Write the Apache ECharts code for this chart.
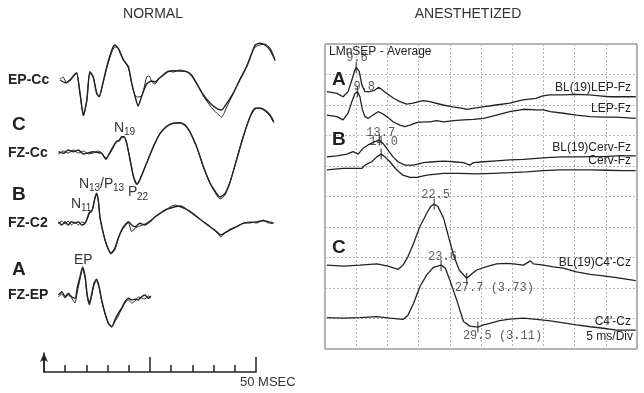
<!DOCTYPE html>
<html><head><meta charset="utf-8">
<script src="https://cdn.jsdelivr.net/npm/echarts@6/dist/echarts.min.js"></script>
<style>html,body{margin:0;padding:0;background:#fff}#c{width:644px;height:393px}</style>
</head><body><div id="c"></div>
<script>
// ---------- NORMAL panel: [time ms, amplitude] (two superimposed replicates each) ----------
const epCc1 = [[3.8,0],[5.0,-2.7],[6.1,0],[7.1,5],[7.7,7.3],[8.5,-13.3],[9.3,-35],[10.1,-20],[10.8,8.3],[11.6,3.3],[12.4,-13.3],[13.0,-16.7],[13.6,-8.3],[14.8,13.3],[16.0,30],[16.7,35],[17.5,31.7],[18.7,20],[19.9,13.3],[20.7,-3.3],[21.5,-16.7],[22.2,-26],[23.0,-16.7],[24.2,-4],[25.4,-1],[26.2,-2],[27.0,1],[28.2,5],[29.3,8.3],[30.5,9.3],[32.1,9],[33.7,8.3],[34.8,5],[36.0,-3.3],[37.6,-15],[39.2,-23.3],[40.7,-28.3],[41.9,-30],[43.1,-23.3],[44.6,-13.3],[46.2,0],[47.8,13.3],[49.0,26.7],[49.8,35],[50.9,36.7],[52.1,35],[53.3,30],[54.1,23.3],[54.5,20]];
const epCc2 = [[3.8,1],[4.5,3],[5.3,-3],[6.1,-1],[7.1,4],[7.7,7],[8.5,-14],[9.3,-36],[10.1,-21],[10.8,7],[11.6,3],[12.4,-12],[13.0,-17],[13.6,-9],[14.8,12],[16.0,28],[16.7,33],[17.5,32],[18.7,21],[19.9,12],[20.7,-4],[21.5,-16],[22.2,-17],[23.0,-16],[23.6,-8],[24.2,3],[24.8,4],[25.4,-2],[26.2,-4],[27.0,1],[28.2,6],[29.3,9],[30.5,8],[32.1,10],[33.7,8],[34.8,4],[36.0,-4],[37.6,-16],[39.2,-26],[40.7,-33],[41.9,-37],[43.1,-27],[44.6,-14],[46.2,1],[47.8,14],[49.0,27],[49.8,33],[50.9,35],[52.1,36],[53.3,32],[54.1,25],[54.5,19]];
const fzCc1 = [[3.4,1.3],[4.6,-0.3],[5.7,3],[6.9,1.3],[8.1,3],[9.3,-1],[10.5,0.3],[11.6,1.3],[12.8,0.3],[13.6,-0.3],[14.6,-6.3],[15.2,-2],[16.3,6.3],[17.1,11.3],[17.8,13],[18.3,16.3],[18.9,16.3],[19.5,9.7],[20.3,-7],[21.1,-23.7],[21.9,-31.3],[22.6,-27],[24.2,-10.3],[25.8,6.3],[27.4,19.7],[28.9,26.3],[30.5,29.7],[32.1,30.3],[33.3,28],[34.4,21.3],[36.0,6.3],[37.6,-13.7],[39.2,-30.3],[40.7,-40.3],[41.5,-44],[42.7,-40.3],[43.9,-28.7],[45.4,-7],[47.0,16.3],[48.6,36.3],[49.8,44.7],[50.9,44.7],[52.1,43],[53.3,38],[54.2,31.3]];
const fzCc2 = [[3.4,-1],[4.6,2],[5.7,0],[6.9,3],[8.1,0],[9.3,2],[10.5,-1],[11.6,0],[12.8,2],[13.6,0],[14.6,-5],[15.2,-3],[16.3,5],[17.1,12],[17.8,12],[18.3,15],[18.9,16],[19.5,10],[20.3,-6],[21.1,-23],[21.9,-31],[22.6,-26],[24.2,-10],[25.8,7],[27.4,20],[28.9,27],[30.5,30],[32.1,30],[33.3,27],[34.4,21],[36.0,6],[37.6,-14],[39.2,-31],[40.7,-42],[41.5,-46],[42.7,-42],[43.9,-29],[45.4,-7],[47.0,17],[48.6,36],[49.8,44],[50.9,45],[52.1,42],[53.3,37],[54.2,30]];
const fzC21 = [[3.4,1.3],[4.2,-2],[5.0,1.3],[5.7,-2],[6.5,1.3],[7.3,-0.3],[8.1,1.3],[8.9,-2],[9.7,-0.3],[10.2,4.7],[10.8,11.3],[11.2,11.3],[11.6,16.3],[12.0,24.7],[12.4,29.7],[12.8,23],[13.2,6.3],[14.0,-10.3],[14.8,-22],[15.8,-30.3],[16.7,-25.3],[17.5,-15.3],[18.3,-7],[19.1,-2],[19.9,1.3],[20.7,-2],[21.5,-3.7],[22.6,-0.3],[23.8,-2],[25.0,1.3],[26.2,6.3],[27.4,9.7],[28.5,13],[29.7,14.7],[30.9,16.3],[32.1,17],[33.3,14.7],[34.4,11.3],[36.0,6.3],[37.6,1.3],[39.2,-3.7],[40.7,-8.7],[41.7,-12],[42.7,-9.7],[43.9,-7],[45.4,-3.7],[47.0,-0.3],[48.6,0.3],[50.2,1.3],[51.7,2.3],[52.9,1.3],[53.7,-0.3],[54.1,0.3]];
const fzC22 = [[3.4,-1],[4.2,2],[5.0,-1],[5.7,2],[6.5,-2],[7.3,1],[8.1,-2],[8.9,1],[9.7,0],[10.2,4],[10.8,10],[11.2,12],[11.6,17],[12.0,25],[12.4,29],[12.8,22],[13.2,5],[14.0,-11],[14.8,-23],[15.8,-31],[16.7,-27],[17.5,-16],[18.3,-8],[19.1,-3],[19.9,0],[20.7,-8.7],[21.5,-5],[22.6,-3],[23.8,-1],[25.0,2.3],[26.2,6],[27.4,10],[28.5,12],[29.7,16],[30.9,18],[32.1,16],[33.3,14],[34.4,12],[36.0,7],[37.6,1],[39.2,-4],[40.7,-9],[41.7,-14],[42.7,-10],[43.9,-6],[45.4,-4],[47.0,0],[48.6,1],[50.2,0],[51.7,3],[52.9,0],[53.7,1],[54.1,-1]];
const fzEp1 = [[3.4,0],[4.2,3.3],[5.0,-1.7],[5.7,1.7],[6.5,-1.7],[7.3,-3.3],[7.9,8.3],[8.5,18.3],[9.1,27.7],[9.7,18.3],[10.2,0],[10.7,-8.3],[11.2,0],[11.8,11.7],[12.4,15.7],[13.0,8.3],[13.6,-5],[14.4,-18.3],[15.2,-28.3],[16.0,-31.7],[16.7,-25],[17.5,-18.3],[18.3,-13.3],[19.1,-6.7],[19.9,-3.3],[20.7,-5],[21.5,-4.3],[22.2,-5],[23.0,-1.7],[23.8,0],[24.6,-3.3],[25.2,-1]];
const fzEp2 = [[3.4,-2],[4.2,1],[5.0,-3],[5.7,0],[6.5,-3],[7.3,-8],[7.9,4],[8.5,16],[9.1,26],[9.7,17],[10.2,-2],[10.7,-10],[11.2,-2],[11.8,10],[12.4,14],[13.0,7],[13.6,-6],[14.4,-19],[15.2,-29],[16.0,-32],[16.7,-27],[17.5,-21],[18.3,-14],[19.1,-8],[19.9,-5],[20.7,-8],[21.5,-6],[22.2,-2],[23.0,-3],[23.8,-4],[24.6,-1],[25.2,-3]];
const normalNames = ['EP-Cc','FZ-Cc','FZ-C2','FZ-EP'];
const normalRep1 = [epCc1, fzCc1, fzC21, fzEp1];
const normalRep2 = [epCc2, fzCc2, fzC22, fzEp2];
const timeBarTicks = [0,5,10,15,20,25,30,35,40,45,50];   // ms

// ---------- ANESTHETIZED panel: [time ms, divisions] ----------
const blLep = [[5.3,8.44],[6.9,8.38],[7.9,8.27],[8.7,8.44],[9.3,8.82],[9.8,9.15],[10.0,9.24],[10.5,9.09],[10.9,8.66],[11.4,8.44],[12.2,8.44],[13.0,8.49],[13.6,8.58],[14.1,8.51],[14.9,8.38],[16.0,8.22],[17.0,8.11],[18.1,8.03],[19.1,8.06],[20.7,8.14],[21.8,8.11],[23.9,8.0],[25.5,7.94],[27.1,7.89],[27.8,7.86],[28.7,7.89],[30.3,7.94],[32.4,8.0],[34.6,8.06],[36.7,8.17],[38.8,8.22],[39.9,8.30],[41.0,8.33],[43.1,8.33],[45.2,8.35],[47.4,8.33],[49.0,8.30],[50.6,8.27],[52.2,8.27],[54.8,8.27]];
const lep = [[5.3,7.67],[6.9,7.62],[7.9,7.51],[8.7,7.73],[9.3,8.11],[9.8,8.38],[10.2,8.44],[10.6,8.27],[11.0,7.84],[11.4,7.62],[11.9,7.56],[12.7,7.67],[13.5,7.78],[14.1,7.73],[14.9,7.62],[15.9,7.45],[17.0,7.34],[17.8,7.29],[18.6,7.34],[19.7,7.42],[20.8,7.45],[21.8,7.45],[22.9,7.49],[24.0,7.45],[25.6,7.49],[27.2,7.51],[28.8,7.53],[30.4,7.56],[32.5,7.67],[34.6,7.78],[36.8,7.86],[38.9,7.84],[40.0,7.84],[41.1,7.78],[43.2,7.73],[45.3,7.67],[47.5,7.62],[49.6,7.60],[51.7,7.60],[54.8,7.56]];
const blCerv = [[5.3,6.30],[6.9,6.33],[8.5,6.39],[9.5,6.47],[10.3,6.39],[11.1,6.58],[11.9,6.69],[13.0,6.80],[13.7,6.85],[14.3,6.74],[15.1,6.52],[15.9,6.30],[16.7,6.14],[17.8,6.03],[19.2,6.03],[20.8,6.11],[22.4,6.14],[24.0,6.16],[25.6,6.14],[27.2,6.11],[28.2,6.03],[28.8,6.11],[30.4,6.14],[32.5,6.17],[34.6,6.20],[36.8,6.22],[38.9,6.25],[41.1,6.28],[43.2,6.30],[45.3,6.30],[47.5,6.31],[49.6,6.31],[51.7,6.33],[54.8,6.33]];
const cerv = [[5.3,5.87],[7.9,5.92],[10.9,5.92],[11.4,6.03],[12.5,6.14],[13.3,6.30],[14.0,6.39],[14.6,6.30],[15.4,6.14],[16.5,5.87],[17.5,5.70],[18.6,5.63],[19.7,5.63],[21.3,5.70],[24.0,5.76],[26.6,5.76],[29.3,5.74],[32.0,5.76],[34.6,5.78],[37.3,5.81],[40.0,5.85],[42.6,5.87],[44.8,5.87],[47.5,5.87],[50.1,5.86],[52.8,5.85],[54.8,5.85]];
const blC4 = [[5.3,2.75],[7.9,2.72],[10.6,2.75],[13.3,2.79],[15.1,2.72],[16.7,2.61],[17.5,2.75],[18.3,3.03],[19.2,3.47],[20.2,4.01],[21.3,4.45],[22.0,4.69],[22.5,4.75],[23.1,4.67],[24.0,4.29],[24.8,3.68],[25.6,3.08],[26.5,2.59],[27.7,2.32],[28.5,2.46],[29.3,2.59],[30.9,2.70],[32.5,2.79],[34.1,2.81],[35.2,2.79],[36.8,2.75],[37.9,2.89],[38.4,2.79],[40.0,2.75],[41.6,2.69],[43.2,2.65],[45.3,2.53],[47.5,2.45],[49.6,2.40],[51.7,2.34],[54.8,2.24]];
const c4 = [[5.3,1.03],[7.9,1.01],[10.6,1.03],[13.3,1.06],[15.4,1.01],[17.5,0.97],[18.3,1.11],[19.2,1.50],[20.2,2.04],[21.3,2.43],[22.4,2.68],[23.6,2.75],[24.3,2.65],[25.0,2.26],[26.1,1.61],[27.2,0.90],[28.2,0.75],[29.5,0.72],[30.4,0.79],[31.4,0.84],[33.0,0.93],[34.6,0.98],[36.8,1.01],[38.9,0.97],[41.1,0.92],[43.2,0.86],[45.3,0.79],[47.5,0.73],[49.6,0.68],[51.7,0.62],[54.8,0.62]];
const anesthNames = ['BL(19)LEP-Fz','LEP-Fz','BL(19)Cerv-Fz','Cerv-Fz',"BL(19)C4'-Cz","C4'-Cz"];
const anesthTraces = [blLep, lep, blCerv, cerv, blC4, c4];
// cursor annotations: [time ms, divisions] and printed text
const cursorPoints = [[10.0,9.24],[10.2,8.44],[13.7,6.85],[14.0,6.39],[22.5,4.75],[23.6,2.75],[27.7,2.32],[29.5,0.72]];
const cursorTexts = ['9.6','9.8','13.7','14.0','22.5','23.6','27.7 (3.73)','29.5 (3.11)'];

// ---------- layout / style (not data) ----------
const normalOffsets = [260,187,117,45];
const cursorLabelPos = [[-10,-9,'left'],[-4,-5,'left'],[-13,-7,'left'],[-12,-12,'left'],[-13,-9,'left'],[-13,-8,'left'],[-12,10,'left'],[-15,9,'left']];
const ink = '#222';

const chart = echarts.init(document.getElementById('c'), null, {renderer:'canvas'});
const hidden = {show:false};
const series = [];
normalRep1.forEach((rep, i) => {
  [rep, normalRep2[i]].forEach((r, k) => {
    series.push({type:'line', name: normalNames[i] + (k ? ' (rep 2)' : ''), xAxisIndex:0, yAxisIndex:0,
      data: r.map(p => [p[0], normalOffsets[i] + p[1]]), showSymbol:false, smooth:0.2,
      lineStyle:{color: ink, width: k ? 1.0 : 1.4}, silent:true, animation:false});
  });
});
anesthTraces.forEach((tr, i) => {
  series.push({type:'line', name: anesthNames[i], xAxisIndex:3, yAxisIndex:3, data: tr,
    showSymbol:false, lineStyle:{color: ink, width:1.3}, silent:true, animation:false});
});
series.push({type:'scatter', xAxisIndex:3, yAxisIndex:3, symbol:'rect', symbolSize:[1.2,11],
  itemStyle:{color: ink}, silent:true, animation:false, z:5,
  data: cursorPoints.map((p, i) => ({value:p, label:{show:true, position:'inside', formatter: cursorTexts[i],
    align: cursorLabelPos[i][2], offset:[cursorLabelPos[i][0], cursorLabelPos[i][1]],
    fontFamily:'Liberation Mono', fontSize:12, color:'#333'}}))});
series.push({type:'line', xAxisIndex:1, yAxisIndex:1, data:[], silent:true});
series.push({type:'line', xAxisIndex:2, yAxisIndex:2, data:[], silent:true});

function txt(x, y, text, font, align, fill) {
  return {type:'text', x:x, y:y, silent:true, z:10, style:{text:text, font:font, fill: fill || ink,
    align: align || 'left', textAlign: align || 'left', verticalAlign:'middle', textVerticalAlign:'middle'}};
}
const bold14 = 'bold 14px "Liberation Sans", Arial, sans-serif';
const big = 'bold 19px "Liberation Sans", Arial, sans-serif';
const ann = '14px "Liberation Sans", Arial, sans-serif';
const sub = '10px "Liberation Sans", Arial, sans-serif';
const rlab = '12px "Liberation Sans", Arial, sans-serif';
const graphic = [
  txt(153, 14, 'NORMAL', '14px "Liberation Sans", Arial, sans-serif', 'center', '#333'),
  txt(468, 14, 'ANESTHETIZED', '14px "Liberation Sans", Arial, sans-serif', 'center', '#333'),
  txt(8, 80, normalNames[0], bold14), txt(12, 125, 'C', big),
  txt(8, 153, normalNames[1], bold14), txt(12, 195, 'B', big),
  txt(8, 223, normalNames[2], bold14), txt(12, 270, 'A', big),
  txt(8, 295, normalNames[3], bold14),
  txt(114, 128, 'N', ann, 'left', '#333'), txt(124, 132, '19', sub, 'left', '#333'),
  txt(79, 184, 'N', ann, 'left', '#333'), txt(89, 188, '13', sub, 'left', '#333'),
  txt(100, 184, '/P', ann, 'left', '#333'), txt(113, 188, '13', sub, 'left', '#333'),
  txt(128, 192, 'P', ann, 'left', '#333'), txt(137, 197, '22', sub, 'left', '#333'),
  txt(71, 204, 'N', ann, 'left', '#333'), txt(81, 208, '11', sub, 'left', '#333'),
  txt(74, 260, 'EP', ann, 'left', '#333'),
  txt(240, 382, '50 MSEC', '13px "Liberation Sans", Arial, sans-serif', 'left', '#333'),
  txt(329, 52, 'LMnSEP - Average', '12px "Liberation Sans", Arial, sans-serif'),
  txt(332, 80, 'A', big), txt(332, 140, 'B', big), txt(332, 248, 'C', big),
  txt(631, 88, anesthNames[0], rlab, 'right'), txt(631, 109, anesthNames[1], rlab, 'right'),
  txt(631, 148, anesthNames[2], rlab, 'right'), txt(631, 161, anesthNames[3], rlab, 'right'),
  txt(631, 263, anesthNames[4], rlab, 'right'), txt(631, 322, anesthNames[5], rlab, 'right'),
  txt(633, 337, '5 ms/Div', rlab, 'right')
];

const dotted = {show:true, lineStyle:{color:'#b5b5b5', type:[2,2], width:1}};
chart.setOption({
  backgroundColor:'#fff', animation:false,
  grid:[
    {left:44, top:30, width:254.4, height:310},
    {left:44, top:353, width:212, height:19},
    {left:44, top:357, width:212, height:15},
    {left:325, top:44, width:312, height:305, show:true, borderColor:'#666', borderWidth:1, backgroundColor:'transparent'}
  ],
  xAxis:[
    {gridIndex:0, type:'value', min:0, max:60, axisLine:hidden, axisTick:hidden, axisLabel:hidden, splitLine:hidden},
    {gridIndex:1, type:'value', min:timeBarTicks[0], max:timeBarTicks[timeBarTicks.length-1], interval:5,
      axisLine:{show:true, lineStyle:{color:ink, width:1.5}}, axisTick:{show:true, inside:true, length:7, lineStyle:{color:ink, width:1.5}},
      axisLabel:hidden, splitLine:hidden},
    {gridIndex:2, type:'value', min:0, max:50, interval:25, axisLine:hidden,
      axisTick:{show:true, inside:true, length:15, lineStyle:{color:ink, width:1.5}}, axisLabel:hidden, splitLine:hidden},
    {gridIndex:3, type:'value', min:5, max:55, interval:5, axisLine:hidden, axisTick:hidden, axisLabel:hidden, splitLine:dotted}
  ],
  yAxis:[
    {gridIndex:0, type:'value', min:0, max:310, axisLine:hidden, axisTick:hidden, axisLabel:hidden, splitLine:hidden},
    {gridIndex:1, type:'value', min:0, max:1, axisLine:{show:true, symbol:['none','arrow'], symbolSize:[6,9], lineStyle:{color:ink, width:1.5}},
      axisTick:hidden, axisLabel:hidden, splitLine:hidden},
    {gridIndex:2, type:'value', min:0, max:1, axisLine:hidden, axisTick:hidden, axisLabel:hidden, splitLine:hidden},
    {gridIndex:3, type:'value', min:0, max:10, interval:1, axisLine:hidden, axisTick:hidden, axisLabel:hidden, splitLine:dotted}
  ],
  series: series,
  graphic: graphic
});
</script></body></html>
